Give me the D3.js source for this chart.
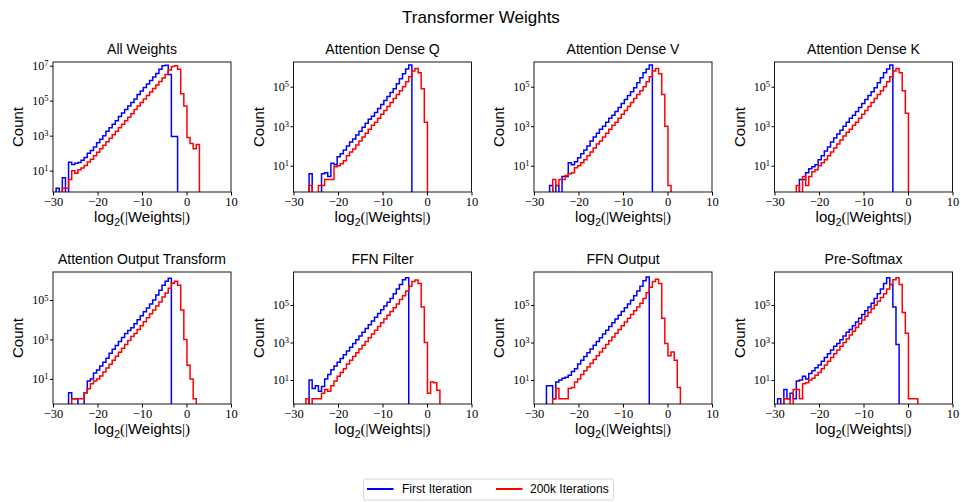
<!DOCTYPE html>
<html>
<head>
<meta charset="utf-8">
<script src="https://cdn.jsdelivr.net/npm/d3@7"></script>
<style>
  body { margin: 0; background: #fff; }
</style>
</head>
<body>
<div id="chart"></div>
<script>
// histogram bins: left edge of bin 0 and width, in log2(|w|) units
const binStart = -30, binWidth = 0.7;

const panelTitles = ["All Weights", "Attention Dense Q", "Attention Dense V", "Attention Dense K",
    "Attention Output Transform", "FFN Filter", "FFN Output", "Pre-Softmax"];
const xTicks = [-30, -20, -10, 0, 10];
const yTickExponents = [1, 3, 5, 7];
// y axis limits of each panel, as log10(count)
const yLimits = [[-0.22, 7.21], [-0.33, 6.25], [-0.33, 6.25], [-0.33, 6.25],
    [-0.27, 6.42], [-0.28, 6.76], [-0.28, 6.76], [-0.28, 6.76]];
const seriesNames = ["First Iteration", "200k Iterations"];
const seriesColors = ["#0000ff", "#ff0000"];

// log10(count) per bin, null = empty bin
const allFirst = [null, 0, null, 0.6, null, 1.48, 1.35, 1.42, 1.47, 1.6,
    1.75, 2.0, 2.15, 2.35, 2.6, 2.8, 3.0, 3.25, 3.45, 3.65,
    3.85, 4.1, 4.3, 4.5, 4.7, 4.9, 5.1, 5.35, 5.55, 5.75,
    5.95, 6.15, 6.35, 6.55, 6.8, 7.0, 7.03, 6.5, 2.95, 2.95];
const allLast = [null, null, null, 0, 0, 0.5, 1.0, 0.85, 1.05, 1.15,
    1.3, 1.5, 1.65, 1.85, 2.05, 2.25, 2.45, 2.65, 2.85, 3.05,
    3.25, 3.45, 3.65, 3.85, 4.05, 4.25, 4.5, 4.7, 4.9, 5.1,
    5.3, 5.5, 5.7, 5.9, 6.1, 6.3, 6.5, 6.75, 6.95, 7.0,
    6.8, 5.4, 4.7, 2.9, 2.55, 2.25, 2.5];
const qFirst = [null, null, null, null, null, 0.6, null, null, null, 0.6,
    0.65, 0.45, 1.13, 1.05, 1.45, 1.6, 1.8, 2.0, 2.2, 2.35,
    2.55, 2.75, 2.95, 3.15, 3.35, 3.5, 3.7, 3.9, 4.1, 4.3,
    4.5, 4.7, 4.9, 5.15, 5.4, 5.65, 5.9, 6.1];
const qLast = [null, null, null, null, null, 0, null, null, 0, 0,
    0.3, 0.3, 0.3, 0.95, 1.0, 1.1, 1.25, 1.5, 1.7, 1.85,
    2.05, 2.25, 2.45, 2.65, 2.85, 3.05, 3.2, 3.4, 3.6, 3.8,
    4.0, 4.2, 4.4, 4.6, 4.8, 5.0, 5.25, 5.5, 5.8, 5.92,
    5.7, 4.9, 3.2];
const vFirst = [null, null, null, null, null, 0, null, 0, null, 0.45,
    0.45, 1.15, 1.05, 1.2, 1.4, 1.6, 1.8, 2.0, 2.25, 2.45,
    2.65, 2.85, 3.0, 3.2, 3.4, 3.55, 3.75, 3.95, 4.15, 4.35,
    4.55, 4.75, 4.95, 5.2, 5.45, 5.7, 5.9, 6.1];
const vLast = [null, null, null, null, null, null, 0.3, 0, 0.3, 0.3,
    0.5, 0.6, 0.65, 0.9, 1.0, 1.15, 1.3, 1.5, 1.7, 1.9,
    2.1, 2.25, 2.45, 2.65, 2.85, 3.05, 3.2, 3.4, 3.6, 3.8,
    4.0, 4.2, 4.4, 4.6, 4.8, 5.0, 5.25, 5.5, 5.8, 5.92,
    5.65, 4.6, 3.0, 0];
const kFirst = [null, null, null, null, null, null, null, null, 0.3, 0.3,
    0.65, 0.85, 0.95, 1.05, 1.3, 1.5, 1.75, 1.95, 2.2, 2.4,
    2.6, 2.8, 3.0, 3.2, 3.4, 3.55, 3.75, 3.95, 4.15, 4.35,
    4.55, 4.75, 4.95, 5.2, 5.45, 5.7, 5.9, 6.1];
const kLast = [null, null, null, null, null, null, null, 0, null, 0.45,
    0, 0.45, 0.7, 0.8, 1.0, 1.15, 1.3, 1.5, 1.7, 1.9,
    2.1, 2.3, 2.5, 2.7, 2.85, 3.05, 3.2, 3.4, 3.6, 3.8,
    4.0, 4.2, 4.4, 4.6, 4.8, 5.0, 5.25, 5.5, 5.8, 5.92,
    5.7, 4.8, 3.65];
const outFirst = [null, null, null, null, null, 0.3, 0, 0, null, null,
    0.3, 0.9, 1.0, 1.3, 1.45, 1.65, 1.85, 2.05, 2.3, 2.5,
    2.7, 2.9, 3.1, 3.3, 3.45, 3.6, 3.8, 4.0, 4.2, 4.4,
    4.6, 4.8, 5.0, 5.25, 5.5, 5.75, 5.95, 6.1];
const outLast = [null, null, null, null, null, null, 0, 0, 0, 0,
    0.3, 0.5, 0.75, 0.9, 1.0, 1.15, 1.35, 1.55, 1.75, 1.95,
    2.15, 2.35, 2.55, 2.75, 2.95, 3.15, 3.3, 3.5, 3.7, 3.9,
    4.1, 4.3, 4.5, 4.7, 4.9, 5.15, 5.35, 5.6, 5.85, 5.95,
    5.75, 4.5, 3.0, 1.7, 1.0, 0];
const filterFirst = [null, null, null, null, null, 1.0, 0.55, 0.7, 0.4, 0.65,
    1.05, 1.3, 1.55, 1.75, 1.95, 2.15, 2.35, 2.55, 2.75, 2.95,
    3.15, 3.35, 3.55, 3.75, 3.95, 4.15, 4.35, 4.55, 4.75, 4.95,
    5.15, 5.35, 5.6, 5.85, 6.1, 6.35, 6.45];
const filterLast = [null, null, null, null, 0, null, 0, 0, 0, 0.3,
    0.5, 0.4, 0.7, 0.95, 1.2, 1.4, 1.6, 1.85, 2.05, 2.25,
    2.45, 2.65, 2.85, 3.05, 3.25, 3.45, 3.65, 3.85, 4.05, 4.25,
    4.45, 4.65, 4.85, 5.05, 5.3, 5.5, 5.75, 6.0, 6.25, 6.33,
    6.15, 4.9, 3.0, 0.3, 0.9, 0.85, 0.45];
const ffnOutFirst = [null, null, null, null, 0.7, 0.7, 0, 0.9, 1.0, 1.1,
    1.15, 1.25, 1.45, 1.6, 1.85, 2.05, 2.25, 2.45, 2.65, 2.85,
    3.05, 3.25, 3.45, 3.65, 3.85, 4.05, 4.25, 4.45, 4.65, 4.85,
    5.05, 5.25, 5.5, 5.75, 6.0, 6.3, 6.5];
const ffnOutLast = [null, null, null, null, null, null, 0, 0.55, 0, 0,
    0, 0.55, 0.6, 0.9, 1.05, 1.3, 1.5, 1.7, 1.9, 2.1,
    2.3, 2.5, 2.7, 2.9, 3.1, 3.3, 3.5, 3.7, 3.9, 4.1,
    4.3, 4.5, 4.7, 4.9, 5.1, 5.35, 5.65, 5.95, 6.25, 6.37,
    6.15, 4.3, 2.95, 2.3, 2.5, 2.05, 0.6];
const softmaxFirst = [null, 0, null, 0.5, 0, 0.3, 0, 0.95, 1.0, 1.2,
    1.05, 1.35, 1.5, 1.65, 1.8, 2.0, 2.2, 2.4, 2.6, 2.8,
    2.95, 3.15, 3.35, 3.55, 3.7, 3.9, 4.1, 4.3, 4.5, 4.7,
    4.9, 5.1, 5.35, 5.6, 5.85, 6.15, 6.45, 6.1, 4.9, 2.9];
const softmaxLast = [null, null, null, 0, 0, null, 0.5, 0.5, 0, 0.8,
    0.85, 1.0, 1.1, 1.25, 1.4, 1.6, 1.8, 2.0, 2.2, 2.4,
    2.6, 2.8, 3.0, 3.2, 3.4, 3.6, 3.8, 4.0, 4.2, 4.4,
    4.6, 4.8, 5.0, 5.2, 5.4, 5.6, 5.85, 6.1, 6.35, 6.46,
    6.1, 4.6, 3.5, 0, 0, 0];

const firstSeries = [allFirst, qFirst, vFirst, kFirst, outFirst, filterFirst, ffnOutFirst, softmaxFirst];
const lastSeries = [allLast, qLast, vLast, kLast, outLast, filterLast, ffnOutLast, softmaxLast];

const width = 961, height = 502,
    colLeft = [53, 293.5, 534, 774.5],
    rowTop = [62, 272],
    rowBottom = [192, 404],
    plotW = 178,
    sansFont = "'Liberation Sans', Arial, sans-serif",
    serifFont = "'Liberation Serif', 'Times New Roman', serif";

const svg = d3.select("#chart").append("svg")
    .attr("width", width)
    .attr("height", height);

svg.append("text")
    .attr("x", 481)
    .attr("y", 23)
    .attr("text-anchor", "middle")
    .style("font-family", sansFont)
    .style("font-size", "17px")
    .text("Transformer Weights");

panelTitles.forEach((title, i) => {
    const col = i % 4, row = Math.floor(i / 4);
    const left = colLeft[col], top = rowTop[row], bottom = rowBottom[row];

    const x = d3.scaleLinear().domain([-30, 10]).range([left, left + plotW]);
    const y = d3.scaleLog()
        .domain(yLimits[i].map(e => Math.pow(10, e)))
        .range([bottom, top]);
    const floor = y.domain()[0] / 10;

    const g = svg.append("g");

    g.append("clipPath")
        .attr("id", "clip" + i)
        .append("rect")
        .attr("x", left).attr("y", top)
        .attr("width", plotW).attr("height", bottom - top);

    const line = d3.line().x(d => x(d[0])).y(d => y(d[1]));

    [firstSeries[i], lastSeries[i]].forEach((bins, s) => {
        let first = bins.findIndex(v => v !== null);
        let last = bins.length - 1;
        while (bins[last] === null) last--;
        const pts = [[binStart + first * binWidth, floor]];
        for (let k = first; k <= last; k++) {
            const c = bins[k] === null ? floor : Math.pow(10, bins[k]);
            pts.push([binStart + k * binWidth, c], [binStart + (k + 1) * binWidth, c]);
        }
        pts.push([binStart + (last + 1) * binWidth, floor]);
        g.append("path")
            .attr("clip-path", "url(#clip" + i + ")")
            .attr("d", line(pts))
            .attr("fill", "none")
            .attr("stroke", seriesColors[s])
            .attr("stroke-width", 1.5)
            .attr("stroke-linejoin", "miter");
    });

    // x axis
    const xAxis = g.append("g")
        .attr("transform", "translate(0," + bottom + ")")
        .call(d3.axisBottom(x).tickValues(xTicks).tickSize(3.5).tickPadding(2)
            .tickFormat(d => d < 0 ? "\u2212" + Math.abs(d) : String(d)));
    xAxis.select(".domain").remove();
    xAxis.selectAll("text")
        .style("font-family", serifFont)
        .style("font-size", "12.5px")
        .attr("fill", "#000");

    // y axis with 10^k labels
    const yTicks = yTickExponents.map(e => Math.pow(10, e)).filter(v => v >= y.domain()[0] && v <= y.domain()[1]);
    const yAxis = g.append("g")
        .attr("transform", "translate(" + left + ",0)")
        .call(d3.axisLeft(y).tickValues(yTicks).tickSize(3).tickPadding(1.5).tickFormat(""));
    yAxis.select(".domain").remove();
    yAxis.selectAll(".tick text")
        .style("font-family", serifFont)
        .style("font-size", "12px")
        .attr("fill", "#000")
        .each(function(d) {
            const t = d3.select(this);
            t.append("tspan").text("10");
            t.append("tspan")
                .attr("dy", "-0.45em")
                .style("font-size", "8.5px")
                .text(Math.round(Math.log10(d)));
        });

    // frame
    g.append("rect")
        .attr("x", left).attr("y", top)
        .attr("width", plotW).attr("height", bottom - top)
        .attr("fill", "none")
        .attr("stroke", "#000")
        .attr("stroke-width", 0.9);

    g.append("text")
        .attr("x", left + plotW / 2)
        .attr("y", top - 8.5)
        .attr("text-anchor", "middle")
        .style("font-family", sansFont)
        .style("font-size", "14px")
        .text(title);

    g.append("text")
        .attr("transform", "translate(" + (left - 30) + "," + ((top + bottom) / 2) + ") rotate(-90)")
        .attr("text-anchor", "middle")
        .style("font-family", sansFont)
        .style("font-size", "15px")
        .text("Count");

    const xl = g.append("text")
        .attr("x", left + plotW / 2)
        .attr("y", bottom + 29.5)
        .attr("text-anchor", "middle")
        .style("font-family", sansFont)
        .style("font-size", "15px");
    xl.append("tspan").text("log");
    xl.append("tspan").attr("dy", 4).style("font-size", "10.5px").text("2");
    xl.append("tspan").attr("dy", -4).style("font-family", serifFont).text("(|");
    xl.append("tspan").text("Weights");
    xl.append("tspan").style("font-family", serifFont).text("|)");
});

// legend
const legend = svg.append("g").attr("transform", "translate(363.5,479)");
legend.append("rect")
    .attr("width", 250).attr("height", 21)
    .attr("rx", 2)
    .attr("fill", "#fff")
    .attr("stroke", "#cccccc")
    .attr("stroke-width", 0.8);
const legendX = [[3.5, 38.5], [132.5, 166.5]];
seriesNames.forEach((name, s) => {
    legend.append("line")
        .attr("x1", legendX[s][0]).attr("x2", legendX[s][0] + 26.5)
        .attr("y1", 10).attr("y2", 10)
        .attr("stroke", seriesColors[s])
        .attr("stroke-width", 2);
    legend.append("text")
        .attr("x", legendX[s][1])
        .attr("y", 14)
        .style("font-family", sansFont)
        .style("font-size", "12px")
        .text(name);
});
</script>
</body>
</html>
